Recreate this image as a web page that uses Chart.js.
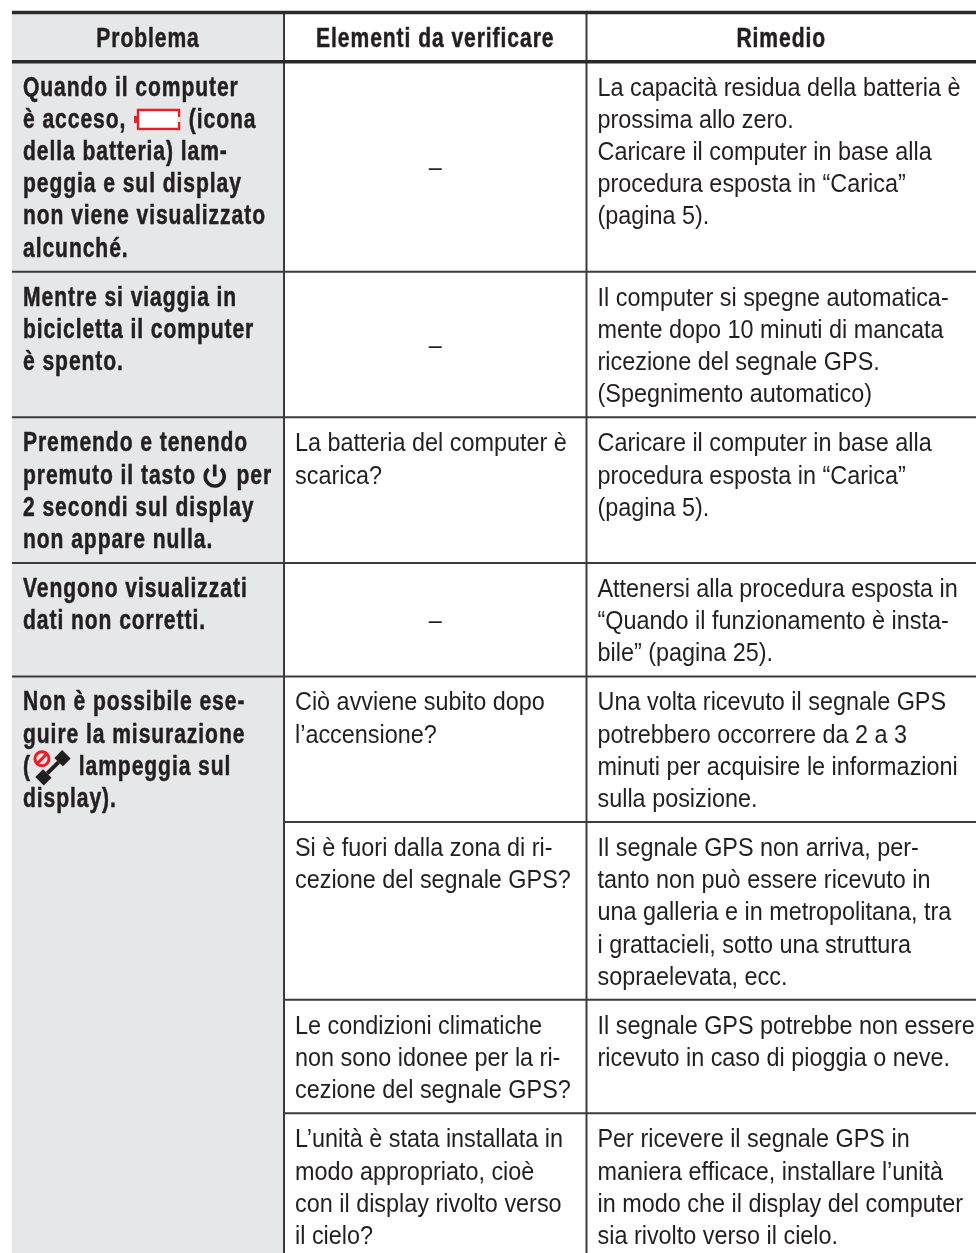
<!DOCTYPE html>
<html lang="it">
<head>
<meta charset="utf-8">
<title>Problema / Rimedio</title>
<script src="https://cdn.jsdelivr.net/npm/chart.js@4"></script>
<style>
html, body { margin: 0; padding: 0; background: #fff; }
canvas { display: block; }
</style>
</head>
<body>
<canvas id="tabella" width="976" height="1253"></canvas>
<script>
// table content, one entry per row, each cell is a list of printed lines
const intestazioni = ['Problema', 'Elementi da verificare', 'Rimedio'];

const problemi = [
  ['Quando il computer', 'è acceso, {batt} (icona', 'della batteria) lam-', 'peggia e sul display', 'non viene visualizzato', 'alcunché.'],
  ['Mentre si viaggia in', 'bicicletta il computer', 'è spento.'],
  ['Premendo e tenendo', 'premuto il tasto {power} per', '2 secondi sul display', 'non appare nulla.'],
  ['Vengono visualizzati', 'dati non corretti.'],
  ['Non è possibile ese-', 'guire la misurazione', '({gps} lampeggia sul', 'display).'],
  [],
  [],
  []
];

const verifiche = [
  ['–'],
  ['–'],
  ['La batteria del computer è', 'scarica?'],
  ['–'],
  ['Ciò avviene subito dopo', 'l’accensione?'],
  ['Si è fuori dalla zona di ri-', 'cezione del segnale GPS?'],
  ['Le condizioni climatiche', 'non sono idonee per la ri-', 'cezione del segnale GPS?'],
  ['L’unità è stata installata in', 'modo appropriato, cioè', 'con il display rivolto verso', 'il cielo?']
];

const rimedi = [
  ['La capacità residua della batteria è', 'prossima allo zero.', 'Caricare il computer in base alla', 'procedura esposta in “Carica”', '(pagina 5).'],
  ['Il computer si spegne automatica-', 'mente dopo 10 minuti di mancata', 'ricezione del segnale GPS.', '(Spegnimento automatico)'],
  ['Caricare il computer in base alla', 'procedura esposta in “Carica”', '(pagina 5).'],
  ['Attenersi alla procedura esposta in', '“Quando il funzionamento è insta-', 'bile” (pagina 25).'],
  ['Una volta ricevuto il segnale GPS', 'potrebbero occorrere da 2 a 3', 'minuti per acquisire le informazioni', 'sulla posizione.'],
  ['Il segnale GPS non arriva, per-', 'tanto non può essere ricevuto in', 'una galleria e in metropolitana, tra', 'i grattacieli, sotto una struttura', 'sopraelevata, ecc.'],
  ['Il segnale GPS potrebbe non essere', 'ricevuto in caso di pioggia o neve.'],
  ['Per ricevere il segnale GPS in', 'maniera efficace, installare l’unità', 'in modo che il display del computer', 'sia rivolto verso il cielo.']
];

// page geometry of the x scale and the row unit of the y scale
const bordoSinistro = 12, sep1 = 284, sep2 = 586.5, larghezza = 976, altezza = 1253;
const passoRiga = 32.15, margineRiga = 0.53, cimaTabella = 12.5;
const paddingCella = 11;
const scuro = '#231f20', grigioFondo = '#e6e7e8', filetto = '#3c3b3b';

// row heights in text lines, cumulative rule positions
function righeDi(i) {
  return Math.max(problemi[i].length, verifiche[i].length, rimedi[i].length);
}
const quote = [0, 1 + margineRiga];
for (let i = 0; i < problemi.length; i++) {
  quote.push(quote[quote.length - 1] + righeDi(i) + margineRiga);
}
const fondo = (altezza - cimaTabella) / passoRiga;

function linea(x0, y0, x1, y1, w, col) {
  return {
    data: [{x: x0, y: y0}, {x: x1, y: y1}],
    showLine: true, borderColor: col, borderWidth: w, pointRadius: 0, fill: false, order: 1
  };
}

const datasets = [];
// grey first column
datasets.push({
  data: [{x: bordoSinistro, y: 0}, {x: sep1, y: 0}],
  showLine: true, borderWidth: 0, pointRadius: 0, borderColor: grigioFondo,
  backgroundColor: grigioFondo, fill: {value: fondo}, order: 5
});
// heavy rules
datasets.push(linea(bordoSinistro, 0, larghezza, 0, 3.4, '#2b2a2a'));
datasets.push(linea(bordoSinistro, quote[1], larghezza, quote[1], 3.4, '#2b2a2a'));
// row rules, the first column stays open below the last problem
for (let i = 2; i < quote.length - 1; i++) {
  const start = problemi[i - 1].length ? bordoSinistro : sep1;
  datasets.push(linea(start, quote[i], larghezza, quote[i], 2, filetto));
}
// column rules
datasets.push(linea(sep1, 0, sep1, fondo, 2, filetto));
datasets.push(linea(sep2, 0, sep2, fondo, 2, filetto));

// font sizes, condensing factors and spacing per text style
const stili = {
  regolare: {font: '26px "Liberation Sans"', k: 0.9, sp: '0px', peso: 0},
  grassetto: {font: 'bold 27px "Liberation Sans"', k: 0.78, sp: '1.2px', peso: 0.5}
};
const larghezzaIcona = {batt: 49, power: 27, gps: 41};

function disegnaIcona(ctx, nome, x, yc) {
  ctx.save();
  if (nome === 'batt') {
    ctx.fillStyle = '#ed1c24';
    ctx.fillRect(x + 1, yc - 4, 4, 7);
    ctx.fillStyle = '#fff';
    ctx.strokeStyle = '#ed1c24';
    ctx.lineWidth = 2.4;
    ctx.fillRect(x + 5, yc - 10, 41, 19);
    ctx.strokeRect(x + 5, yc - 10, 41, 19);
    ctx.fillStyle = grigioFondo;
    ctx.fillRect(x + 44.5, yc - 3, 3, 5);
  } else if (nome === 'power') {
    ctx.strokeStyle = scuro;
    ctx.lineWidth = 3.6;
    ctx.beginPath();
    ctx.arc(x + 12, yc + 1, 9.5, -Math.PI * 0.28, Math.PI * 1.28);
    ctx.stroke();
    ctx.beginPath();
    ctx.moveTo(x + 12, yc - 11);
    ctx.lineTo(x + 12, yc + 1);
    ctx.stroke();
  } else if (nome === 'gps') {
    ctx.translate(x + 22, yc + 1);
    ctx.rotate(-Math.PI / 4);
    ctx.fillStyle = scuro;
    ctx.fillRect(-19, -6, 11, 12);
    ctx.fillRect(8, -6, 11, 12);
    ctx.fillRect(-8, -2, 16, 4);
    ctx.rotate(Math.PI / 4);
    ctx.fillStyle = grigioFondo;
    ctx.strokeStyle = '#ed1c24';
    ctx.lineWidth = 3;
    ctx.beginPath();
    ctx.arc(-11, -9, 7, 0, Math.PI * 2);
    ctx.fill();
    ctx.stroke();
    ctx.beginPath();
    ctx.moveTo(-15.5, -4.5);
    ctx.lineTo(-6.5, -13.5);
    ctx.stroke();
  }
  ctx.restore();
}

function testoStretto(ctx, t, x, y, st) {
  ctx.save();
  ctx.translate(x, y);
  ctx.scale(st.k, 1);
  if (st.peso) {
    ctx.strokeStyle = scuro;
    ctx.lineWidth = st.peso;
    ctx.strokeText(t, 0, 0);
  }
  ctx.fillText(t, 0, 0);
  ctx.restore();
}

function scriviRiga(ctx, testo, x, y, st) {
  const pezzi = testo.split(/\{(\w+)\}/);
  let cx = x;
  pezzi.forEach(function (p, i) {
    if (i % 2) {
      disegnaIcona(ctx, p, cx, y - 8);
      cx += larghezzaIcona[p];
    } else if (p) {
      testoStretto(ctx, p, cx, y, st);
      cx += ctx.measureText(p).width * st.k;
    }
  });
}

const testoTabella = {
  id: 'testoTabella',
  afterDatasetsDraw(chart) {
    const ctx = chart.ctx, sx = chart.scales.x, sy = chart.scales.y;
    const colonne = [bordoSinistro, sep1, sep2];
    const centri = [(bordoSinistro + sep1) / 2, (sep1 + sep2) / 2, (sep2 + larghezza) / 2];
    const base = 9.5;

    ctx.save();
    ctx.fillStyle = scuro;
    ctx.textBaseline = 'alphabetic';

    // header
    ctx.font = stili.grassetto.font;
    ctx.letterSpacing = stili.grassetto.sp;
    ctx.textAlign = 'center';
    intestazioni.forEach(function (t, c) {
      testoStretto(ctx, t, sx.getPixelForValue(centri[c]), sy.getPixelForValue(quote[1] / 2) + base, stili.grassetto);
    });

    ctx.textAlign = 'left';
    [problemi, verifiche, rimedi].forEach(function (col, c) {
      const st = c === 0 ? stili.grassetto : stili.regolare;
      ctx.font = st.font;
      ctx.letterSpacing = st.sp;
      col.forEach(function (righe, r) {
        const top = quote[r + 1];
        if (righe.length === 1 && righe[0] === '–') {
          ctx.textAlign = 'center';
          testoStretto(ctx, '–', sx.getPixelForValue(centri[c]), sy.getPixelForValue(top + (righeDi(r) + margineRiga) / 2) + base, st);
          ctx.textAlign = 'left';
          return;
        }
        righe.forEach(function (t, l) {
          const y = sy.getPixelForValue(top + margineRiga / 2 + l + 0.5) + base;
          scriviRiga(ctx, t, sx.getPixelForValue(colonne[c]) + paddingCella, y, st);
        });
      });
    });
    ctx.restore();
  }
};

new Chart(document.getElementById('tabella'), {
  type: 'scatter',
  data: {datasets: datasets},
  plugins: [testoTabella],
  options: {
    responsive: false,
    animation: false,
    layout: {padding: 0},
    plugins: {legend: {display: false}, tooltip: {enabled: false}},
    scales: {
      x: {type: 'linear', display: false, min: 0, max: larghezza},
      y: {type: 'linear', display: false, reverse: true, min: -cimaTabella / passoRiga, max: fondo}
    }
  }
});
</script>
</body>
</html>
